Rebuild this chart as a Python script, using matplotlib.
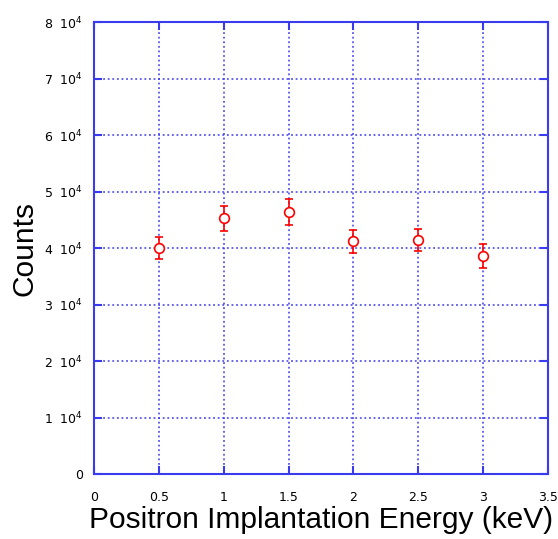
import matplotlib
matplotlib.use("Agg")
import matplotlib.pyplot as plt

energy = [0.5, 1.0, 1.5, 2.0, 2.5, 3.0]
counts = [40000, 45300, 46300, 41200, 41400, 38600]
errors = [2000, 2200, 2300, 2000, 2000, 2100]
yticks = [0, 10000, 20000, 30000, 40000, 50000, 60000, 70000, 80000]
xticks = [0, 0.5, 1, 1.5, 2, 2.5, 3, 3.5]
xticklabels = ["0", "0.5", "1", "1.5", "2", "2.5", "3", "3.5"]

blue = "#3a3aee"
fig = plt.figure(figsize=(5.58, 5.39), dpi=100)
ax = fig.add_axes([0.1685, 0.1206, 0.8135, 0.8385])

ax.errorbar(energy, counts, yerr=errors, fmt="o", mfc="white", mec="red",
            ecolor="red", ms=7, mew=1.2, elinewidth=1.2, capsize=3, capthick=1.2,
            zorder=3)

ax.set_xlim(0, 3.5)
ax.set_ylim(0, 80000)
ax.set_xticks(xticks)
ax.set_xticklabels(xticklabels, fontsize=9)
ax.set_yticks(yticks)
ylabels = ["0"] + [f"{v // 10000}  10$^{{4}}$" for v in yticks[1:]]
ax.set_yticklabels(ylabels, fontsize=9)

ax.grid(True, color=blue, linestyle=(0, (1.2, 1.8)), linewidth=1.1)
for s in ax.spines.values():
    s.set_color(blue)
    s.set_linewidth(1.5)
ax.tick_params(direction="in", length=6, width=1.5, color=blue,
               top=True, right=True, labelcolor="black")
ax.tick_params(axis="x", pad=12)
ax.tick_params(axis="y", pad=8)

ax.set_xlabel("Positron Implantation Energy (keV)", fontsize=21.5,
              family="Liberation Sans", labelpad=2)
ax.set_ylabel("Counts", fontsize=21.5, family="Liberation Sans", labelpad=4)

fig.savefig("out.png", dpi=100)
